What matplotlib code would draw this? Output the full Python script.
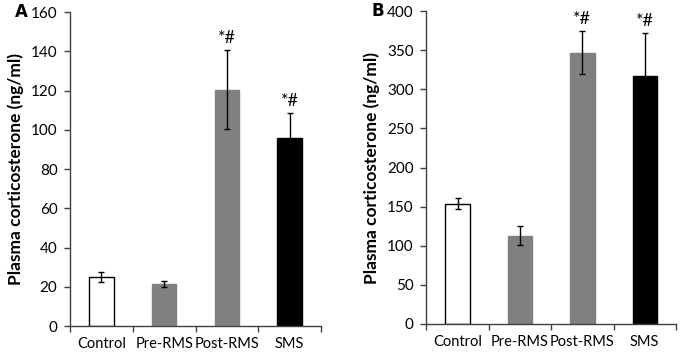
import matplotlib
matplotlib.use("Agg")
import matplotlib.pyplot as plt
import numpy as np

groups = ["Control", "Pre-RMS", "Post-RMS", "SMS"]
bar_colors = ["white", "#808080", "#808080", "black"]

# panel A
a_means = [25, 21.5, 120.5, 96]
a_errs = [2.5, 1.5, 20, 12.5]
a_marks = ["", "", "*#", "*#"]

# panel B
b_means = [154, 113, 347, 317]
b_errs = [7, 12, 27, 55]
b_marks = ["", "", "*#", "*#"]

plt.rcParams['font.family'] = ['Lato', 'DejaVu Sans']


def draw_panel(ax, means, errs, marks, ymax, ystep, letter):
    x = np.arange(len(groups))
    ax.bar(x, means, width=0.39, color=bar_colors,
           edgecolor=["black", "#808080", "#808080", "black"], linewidth=1)
    ax.errorbar(x, means, yerr=errs, fmt="none", ecolor="black",
                elinewidth=1, capsize=2.5, capthick=1)
    for xi, m, e, t in zip(x, means, errs, marks):
        if t:
            ax.annotate(t, (xi, m + e), xytext=(0, 3), textcoords="offset points",
                        ha="center", va="bottom", fontsize=13)
    ax.set_xlim(-0.5, len(groups) - 0.5)
    ax.set_ylim(0, ymax)
    ax.set_yticks(np.arange(0, ymax + 1, ystep))
    ax.set_xticks(np.arange(-0.5, len(groups), 1.0))
    ax.set_xticklabels([])
    ax.set_xticks(x, minor=True)
    ax.set_xticklabels(groups, minor=True, fontsize=10.5)
    ax.tick_params(axis="x", which="minor", length=0, pad=8)
    ax.tick_params(axis="x", which="major", length=4, width=1, color="#404040")
    ax.tick_params(axis="y", length=4, width=1, labelsize=11, color="#404040", pad=5)
    for s in ["top", "right"]:
        ax.spines[s].set_visible(False)
    for s in ["left", "bottom"]:
        ax.spines[s].set_color("#404040")
        ax.spines[s].set_linewidth(1)
    ax.set_ylabel("Plasma corticosterone (ng/ml)", fontsize=12.5, fontweight="bold", labelpad=5)
    ax.text(-0.22, 1.0, letter, transform=ax.transAxes, fontsize=12,
            fontweight="bold", family="DejaVu Sans", va="center")


fig = plt.figure(figsize=(6.8, 3.58), dpi=100)
ax1 = fig.add_axes([0.103, 0.089, 0.369, 0.877])
ax2 = fig.add_axes([0.627, 0.095, 0.367, 0.874])
draw_panel(ax1, a_means, a_errs, a_marks, 160, 20, "A")
draw_panel(ax2, b_means, b_errs, b_marks, 400, 50, "B")

fig.savefig("out.png", dpi=100)
